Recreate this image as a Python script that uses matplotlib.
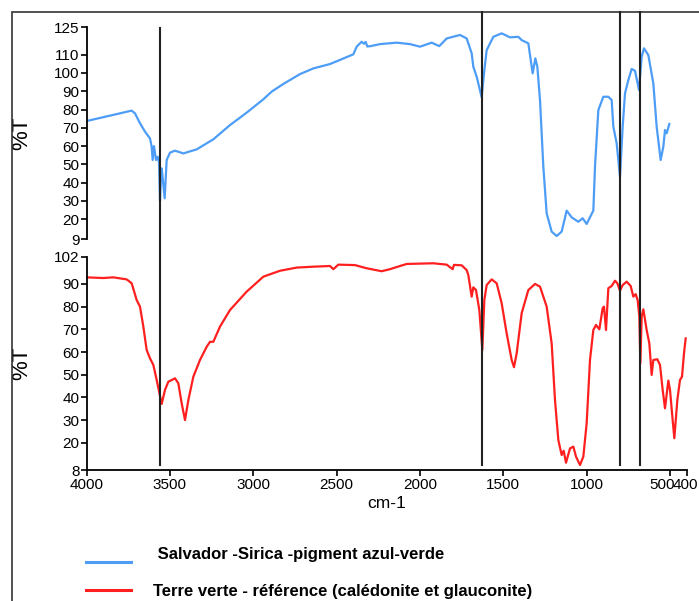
import matplotlib
matplotlib.use("Agg")
import matplotlib.pyplot as plt
from matplotlib.lines import Line2D
from matplotlib.patches import Rectangle
from matplotlib import transforms

plt.rcParams['font.family'] = ['Liberation Sans', 'DejaVu Sans']

# --- spectre bleu : Salvador - Sirica ---
wn_blue = [4000, 3729, 3709, 3679, 3649, 3619, 3609, 3603, 3595, 3583, 3573, 3565,
           3559, 3552, 3549, 3540, 3531, 3519, 3499, 3469, 3419, 3339, 3239, 3139,
           3039, 2939, 2889, 2819, 2719, 2639, 2539, 2399, 2379, 2349, 2335, 2325,
           2315, 2295, 2239, 2139, 2059, 1999, 1929, 1883, 1839, 1759, 1719, 1689,
           1679, 1659, 1629, 1615, 1599, 1559, 1509, 1459, 1409, 1389, 1349, 1323,
           1307, 1295, 1279, 1259, 1239, 1209, 1179, 1149, 1119, 1089, 1049, 1023,
           999, 959, 949, 929, 899, 869, 849, 839, 819, 799, 783, 769, 749, 729,
           709, 685, 669, 655, 629, 599, 579, 555, 539, 529, 519, 503]
t_blue = [73.7, 79.4, 77.9, 72.5, 67.9, 64.2, 59.7, 52.4, 60.0, 52.4, 54.2, 51.0,
          30.0, 46.0, 47.8, 40.0, 31.4, 52.4, 56.4, 57.5, 56.0, 58.2, 63.7, 71.5,
          78.3, 85.6, 89.8, 94.0, 99.4, 102.5, 104.9, 110.2, 114.4, 117.1, 116.0, 117.0,
          114.5, 114.7, 115.8, 116.6, 115.8, 114.4, 116.6, 114.7, 118.9, 120.8, 118.9, 110.8,
          103.4, 98.0, 86.7, 99.8, 112.5, 119.8, 121.7, 119.5, 119.8, 118.0, 116.2, 99.8,
          108.0, 103.4, 85.2, 48.7, 23.2, 13.2, 10.8, 13.2, 24.7, 21.0, 18.6, 20.5,
          17.4, 24.7, 48.7, 79.7, 87.0, 87.0, 85.2, 70.6, 61.5, 43.2, 70.6, 88.9, 96.1, 102.2,
          101.2, 90.7, 108.9, 113.5, 109.8, 94.3, 70.6, 52.4, 59.7, 68.8, 67.0, 72.1]

# --- spectre rouge : Terre verte ---
wn_red = [4000, 3900, 3839, 3759, 3729, 3699, 3679, 3659, 3639, 3619, 3599, 3579,
          3549, 3529, 3509, 3469, 3449, 3429, 3409, 3389, 3359, 3319, 3279, 3259,
          3239, 3199, 3139, 3039, 2939, 2839, 2739, 2639, 2539, 2519, 2489, 2389,
          2319, 2229, 2179, 2119, 2079, 1919, 1839, 1803, 1795, 1749, 1719, 1709,
          1689, 1679, 1663, 1643, 1625, 1613, 1599, 1569, 1539, 1509, 1479, 1449,
          1435, 1419, 1389, 1349, 1309, 1279, 1239, 1209, 1189, 1169, 1149, 1137,
          1123, 1099, 1079, 1063, 1039, 1019, 999, 979, 959, 943, 923, 903, 895,
          883, 869, 849, 829, 815, 799, 783, 759, 735, 719, 705, 693, 683, 677,
          669, 659, 639, 623, 609, 599, 575, 559, 543, 529, 509, 499, 483, 473,
          455, 439, 427, 415, 405]
t_red = [92.9, 92.6, 92.9, 92.0, 90.3, 82.9, 80.0, 71.2, 60.9, 57.2, 54.3, 47.7,
         37.1, 43.3, 46.9, 48.4, 46.2, 37.4, 30.0, 38.8, 49.1, 56.5, 62.3, 64.5,
         64.5, 71.2, 78.5, 86.6, 93.2, 95.8, 97.2, 97.6, 97.9, 96.5, 98.5, 98.3,
         96.9, 95.6, 96.5, 97.9, 98.8, 99.1, 98.5, 96.5, 98.4, 98.2, 96.1, 93.9,
         84.4, 88.5, 87.3, 78.5, 60.9, 82.9, 89.5, 92.0, 90.3, 81.5, 68.2, 56.5,
         53.3, 59.4, 77.1, 87.3, 90.0, 88.8, 80.0, 63.8, 38.8, 21.2, 14.6, 16.5,
         11.2, 17.5, 18.3, 13.9, 10.2, 13.9, 28.6, 56.5, 69.7, 71.9, 70.0, 79.3, 80.0,
         69.7, 88.1, 89.1, 91.4, 90.3, 87.0, 89.5, 91.0, 89.1, 84.4, 85.5, 82.9, 75.6, 55.0,
         75.6, 78.8, 69.7, 63.8, 49.9, 56.5, 56.8, 54.3, 43.3, 35.2, 47.4, 43.3, 30.0, 22.0,
         38.8, 47.7, 49.1, 59.4, 66.0]

# bandes marquées (cm-1)
bands = [3560, 1630, 800, 680]

yticks_top = [9, 20, 30, 40, 50, 60, 70, 80, 90, 100, 110, 125]
yticks_bot = [8, 20, 30, 40, 50, 60, 70, 80, 90, 102]
xticks = [4000, 3500, 3000, 2500, 2000, 1500, 1000, 500, 400]

legend_labels = [' Salvador -Sirica -pigment azul-verde',
                 'Terre verte - référence (calédonite et glauconite)']
c_blue = '#4d9df7'
c_red = '#ff1f1f'

W, H = 699, 601
fig = plt.figure(figsize=(W / 100, H / 100), dpi=100)

left = 86.5 / W
width = 600 / W
ax_top = fig.add_axes([left, 1 - 239.3 / H, width, 212 / H])
ax_bot = fig.add_axes([left, 1 - 470 / H, width, 213.3 / H])

ax_top.plot(wn_blue, t_blue, color=c_blue, lw=1.6)
ax_bot.plot(wn_red, t_red, color=c_red, lw=1.6)

for ax in (ax_top, ax_bot):
    ax.set_xlim(4000, 400)
    ax.spines['top'].set_visible(False)
    ax.spines['right'].set_visible(False)
    ax.spines['left'].set_linewidth(1.3)
    ax.tick_params(axis='both', direction='out', length=4, width=1.2,
                   labelsize=11, pad=1)
    ax.set_ylabel('%T', fontsize=16)
    ax.patch.set_alpha(0)

ax_top.set_ylim(9, 125)
ax_top.set_yticks(yticks_top)
ax_top.spines['bottom'].set_visible(False)
ax_top.set_xticks([])
ax_top.yaxis.set_label_coords(-0.09, 0.5)

ax_bot.set_ylim(8, 102)
ax_bot.set_yticks(yticks_bot)
ax_bot.set_xticks(xticks)
ax_bot.spines['bottom'].set_linewidth(1.3)
ax_bot.tick_params(axis='x', pad=2)
ax_bot.set_xlabel('cm-1', fontsize=12.5, labelpad=3)
ax_bot.yaxis.set_label_coords(-0.09, 0.5)

# "500" et "400" collés comme dans l'original
labels = ax_bot.get_xticklabels()
for lab, dx in zip(labels[-2:], [-8, -1]):
    lab.set_transform(lab.get_transform() +
                      transforms.ScaledTranslation(dx / 100, 0, fig.dpi_scale_trans))

# lignes verticales des bandes
trans = transforms.blended_transform_factory(ax_bot.transData, fig.transFigure)
for i, b in enumerate(bands):
    y_end = 1 - 28 / H if i == 0 else 1 - 12 / H
    fig.add_artist(Line2D([b, b], [1 - 465 / H, y_end], transform=trans,
                          color='#222222', lw=1.5))

# cadre
fig.add_artist(Rectangle((12 / W, -0.1), 1.2, 1.1 - 12 / H, transform=fig.transFigure,
                         fill=False, edgecolor='#333333', lw=1.2))

# légende
leg_y = [1 - 561.7 / H, 1 - 590 / H]
txt_y = [1 - 555 / H, 1 - 591.5 / H]
for col, lab, y, ty, tx in zip([c_blue, c_red], legend_labels, leg_y, txt_y,
                               [153 / W, 152.7 / W]):
    fig.add_artist(Line2D([86 / W, 131 / W], [y, y], transform=fig.transFigure,
                          color=col, lw=2.2))
    fig.text(tx, ty, lab, fontsize=12, fontweight='bold', va='center', ha='left')

fig.savefig('out.png', dpi=100)
